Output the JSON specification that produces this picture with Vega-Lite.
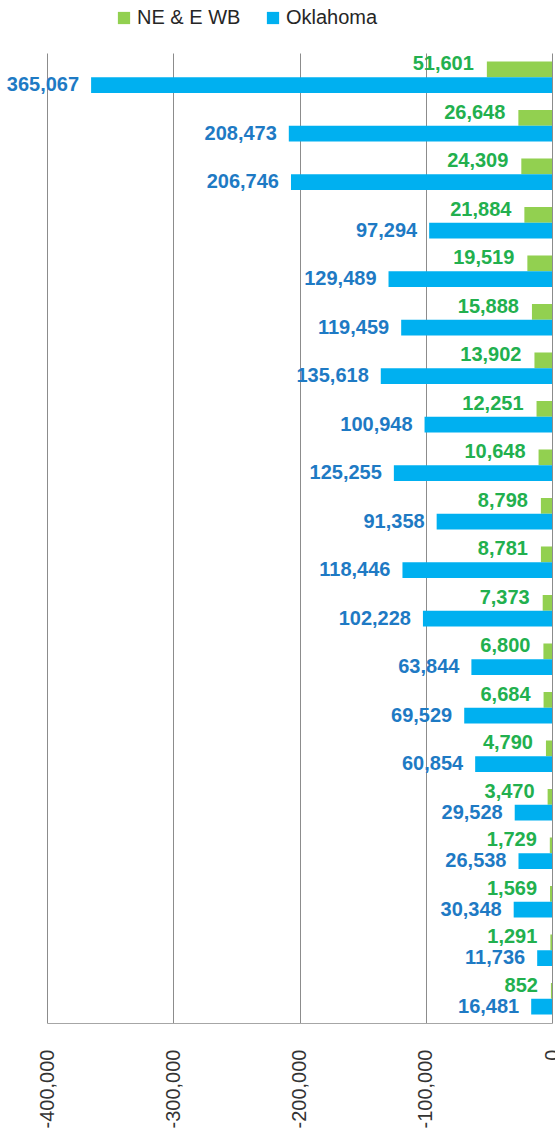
{
  "$schema": "https://vega.github.io/schema/vega-lite/v6.json",
  "autosize": "none",
  "width": 505,
  "height": 970,
  "padding": {"left": 47, "top": 53, "right": 3, "bottom": 109},
  "config": {"view": {"stroke": null}, "font": "Liberation Sans"},
  "data": {"values": [
    {"c": 1, "s": "NE & E WB", "v": 51601}, {"c": 1, "s": "Oklahoma", "v": 365067},
    {"c": 2, "s": "NE & E WB", "v": 26648}, {"c": 2, "s": "Oklahoma", "v": 208473},
    {"c": 3, "s": "NE & E WB", "v": 24309}, {"c": 3, "s": "Oklahoma", "v": 206746},
    {"c": 4, "s": "NE & E WB", "v": 21884}, {"c": 4, "s": "Oklahoma", "v": 97294},
    {"c": 5, "s": "NE & E WB", "v": 19519}, {"c": 5, "s": "Oklahoma", "v": 129489},
    {"c": 6, "s": "NE & E WB", "v": 15888}, {"c": 6, "s": "Oklahoma", "v": 119459},
    {"c": 7, "s": "NE & E WB", "v": 13902}, {"c": 7, "s": "Oklahoma", "v": 135618},
    {"c": 8, "s": "NE & E WB", "v": 12251}, {"c": 8, "s": "Oklahoma", "v": 100948},
    {"c": 9, "s": "NE & E WB", "v": 10648}, {"c": 9, "s": "Oklahoma", "v": 125255},
    {"c": 10, "s": "NE & E WB", "v": 8798}, {"c": 10, "s": "Oklahoma", "v": 91358},
    {"c": 11, "s": "NE & E WB", "v": 8781}, {"c": 11, "s": "Oklahoma", "v": 118446},
    {"c": 12, "s": "NE & E WB", "v": 7373}, {"c": 12, "s": "Oklahoma", "v": 102228},
    {"c": 13, "s": "NE & E WB", "v": 6800}, {"c": 13, "s": "Oklahoma", "v": 63844},
    {"c": 14, "s": "NE & E WB", "v": 6684}, {"c": 14, "s": "Oklahoma", "v": 69529},
    {"c": 15, "s": "NE & E WB", "v": 4790}, {"c": 15, "s": "Oklahoma", "v": 60854},
    {"c": 16, "s": "NE & E WB", "v": 3470}, {"c": 16, "s": "Oklahoma", "v": 29528},
    {"c": 17, "s": "NE & E WB", "v": 1729}, {"c": 17, "s": "Oklahoma", "v": 26538},
    {"c": 18, "s": "NE & E WB", "v": 1569}, {"c": 18, "s": "Oklahoma", "v": 30348},
    {"c": 19, "s": "NE & E WB", "v": 1291}, {"c": 19, "s": "Oklahoma", "v": 11736},
    {"c": 20, "s": "NE & E WB", "v": 852}, {"c": 20, "s": "Oklahoma", "v": 16481}
  ]},
  "encoding": {
    "y": {"field": "c", "type": "ordinal", "axis": null, "scale": {"paddingInner": 0.35, "paddingOuter": 0.175}},
    "yOffset": {"field": "s", "type": "nominal", "sort": ["NE & E WB", "Oklahoma"]},
    "x": {
      "field": "v", "type": "quantitative",
      "scale": {"domain": [0, 400000], "reverse": true, "nice": false},
      "axis": {
        "values": [0, 100000, 200000, 300000, 400000],
        "labelExpr": "datum.value == 0 ? '0' : '-' + format(datum.value, ',')",
        "labelAngle": -90,
        "labelFontSize": 20,
        "labelColor": "#333333",
        "labelPadding": 26,
        "labelFlush": false,
        "labelOverlap": false,
        "labelBound": false,
        "ticks": false,
        "grid": true,
        "gridColor": "#8c8c8c",
        "domainColor": "#a6a6a6",
        "title": null
      }
    }
  },
  "layer": [
    {
      "mark": {"type": "bar"},
      "encoding": {
        "color": {
          "field": "s", "type": "nominal",
          "scale": {"domain": ["NE & E WB", "Oklahoma"], "range": ["#92d050", "#00b0f0"]},
          "legend": {
            "orient": "none", "legendX": 67, "legendY": -45,
            "direction": "horizontal", "title": null,
            "symbolType": "square", "symbolSize": 150, "symbolStrokeWidth": 0,
            "labelFontSize": 20, "labelColor": "#262626",
            "columnPadding": 22, "labelOffset": 3
          }
        }
      }
    },
    {
      "transform": [{"filter": "datum.s == 'NE & E WB'"}],
      "mark": {"type": "text", "align": "right", "baseline": "middle", "dx": -13, "dy": -5, "fontWeight": "bold", "fontSize": 20, "color": "#22b04e"},
      "encoding": {"text": {"field": "v", "type": "quantitative", "format": ","}}
    },
    {
      "transform": [{"filter": "datum.s == 'Oklahoma'"}],
      "mark": {"type": "text", "align": "right", "baseline": "middle", "dx": -12, "fontWeight": "bold", "fontSize": 20, "color": "#1e7ac4"},
      "encoding": {"text": {"field": "v", "type": "quantitative", "format": ","}}
    }
  ]
}
